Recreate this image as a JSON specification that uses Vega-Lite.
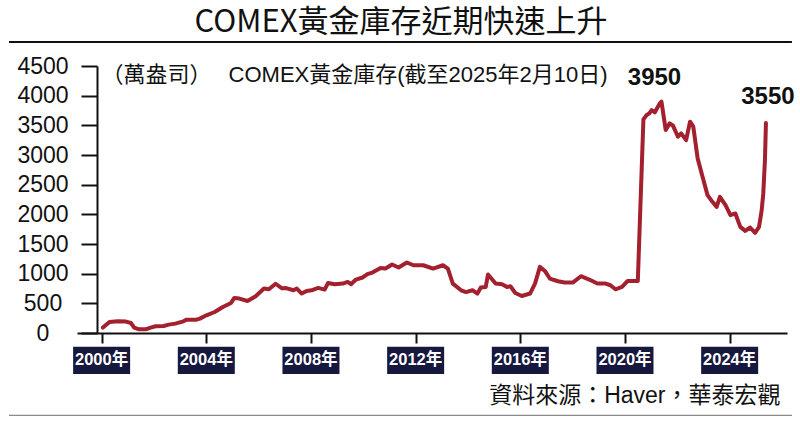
{
  "$schema": "https://vega.github.io/schema/vega-lite/v6.json",
  "width": 710,
  "height": 267,
  "autosize": {"type": "none"},
  "padding": {"left": 77, "top": 66, "right": 13, "bottom": 91},
  "background": "white",
  "title": {
    "text": "COMEX黃金庫存近期快速上升",
    "font": "Noto Sans CJK TC",
    "fontSize": 31,
    "fontWeight": "normal",
    "color": "#111111",
    "anchor": "middle",
    "frame": "group",
    "dx": -31,
    "offset": 2
  },
  "config": {
    "view": {"stroke": null},
    "axisX": {
      "labels": false, "grid": false,
      "tickSize": 10, "tickWidth": 2, "tickColor": "#111111",
      "domainWidth": 2, "domainColor": "#111111",
      "titleX": 703, "titleY": 62, "titleAlign": "right", "titleBaseline": "middle",
      "titleFont": "Liberation Sans, Noto Sans CJK TC", "titleFontSize": 23,
      "titleFontWeight": "normal", "titleColor": "#111111"
    },
    "axisY": {
      "grid": false, "offset": -20,
      "tickSize": 16, "tickWidth": 2, "tickColor": "#111111",
      "domainWidth": 2, "domainColor": "#111111",
      "labelAlign": "center", "labelPadding": 38.5, "labelBaseline": "middle",
      "labelFont": "Liberation Sans", "labelFontSize": 23, "labelColor": "#111111",
      "labelOverlap": false, "labelFlush": false,
      "titleAngle": 0, "titleX": 4, "titleY": 8, "titleAlign": "left", "titleBaseline": "middle",
      "titleFont": "Liberation Sans, Noto Sans CJK TC", "titleFontSize": 22,
      "titleFontWeight": "normal", "titleColor": "#111111"
    }
  },
  "datasets": {
    "stock": [
      {"year": 2000.049, "value": 91}, {"year": 2000.301, "value": 186}, {"year": 2000.614, "value": 197},
      {"year": 2000.930, "value": 192}, {"year": 2001.119, "value": 169}, {"year": 2001.243, "value": 91},
      {"year": 2001.431, "value": 62}, {"year": 2001.684, "value": 62}, {"year": 2001.872, "value": 91},
      {"year": 2002.060, "value": 113}, {"year": 2002.373, "value": 118}, {"year": 2002.561, "value": 141},
      {"year": 2002.814, "value": 158}, {"year": 2003.126, "value": 197}, {"year": 2003.250, "value": 225},
      {"year": 2003.627, "value": 225}, {"year": 2003.755, "value": 242}, {"year": 2004.004, "value": 298},
      {"year": 2004.320, "value": 354}, {"year": 2004.633, "value": 439}, {"year": 2004.945, "value": 506},
      {"year": 2005.073, "value": 591}, {"year": 2005.262, "value": 580}, {"year": 2005.574, "value": 540},
      {"year": 2005.887, "value": 619}, {"year": 2006.203, "value": 749}, {"year": 2006.392, "value": 737},
      {"year": 2006.648, "value": 830}, {"year": 2006.893, "value": 752}, {"year": 2007.017, "value": 760},
      {"year": 2007.333, "value": 720}, {"year": 2007.458, "value": 749}, {"year": 2007.646, "value": 665},
      {"year": 2007.834, "value": 709}, {"year": 2008.023, "value": 720}, {"year": 2008.275, "value": 760},
      {"year": 2008.523, "value": 732}, {"year": 2008.652, "value": 844}, {"year": 2008.900, "value": 822},
      {"year": 2009.217, "value": 833}, {"year": 2009.405, "value": 861}, {"year": 2009.529, "value": 822},
      {"year": 2009.718, "value": 901}, {"year": 2009.970, "value": 935}, {"year": 2010.158, "value": 991},
      {"year": 2010.347, "value": 1019}, {"year": 2010.659, "value": 1097}, {"year": 2010.847, "value": 1086},
      {"year": 2011.100, "value": 1154}, {"year": 2011.348, "value": 1103}, {"year": 2011.665, "value": 1188},
      {"year": 2011.913, "value": 1142}, {"year": 2012.290, "value": 1142}, {"year": 2012.667, "value": 1086},
      {"year": 2013.043, "value": 1142}, {"year": 2013.232, "value": 1086}, {"year": 2013.420, "value": 833},
      {"year": 2013.736, "value": 720}, {"year": 2013.925, "value": 690}, {"year": 2014.173, "value": 720},
      {"year": 2014.361, "value": 665}, {"year": 2014.490, "value": 766}, {"year": 2014.678, "value": 776},
      {"year": 2014.765, "value": 985}, {"year": 2014.927, "value": 901}, {"year": 2015.055, "value": 833},
      {"year": 2015.303, "value": 822}, {"year": 2015.492, "value": 776}, {"year": 2015.620, "value": 788},
      {"year": 2015.808, "value": 675}, {"year": 2016.057, "value": 624}, {"year": 2016.373, "value": 665},
      {"year": 2016.561, "value": 833}, {"year": 2016.749, "value": 1114}, {"year": 2016.938, "value": 1046},
      {"year": 2017.126, "value": 918}, {"year": 2017.439, "value": 872}, {"year": 2017.691, "value": 850},
      {"year": 2018.004, "value": 850}, {"year": 2018.316, "value": 957}, {"year": 2018.633, "value": 901},
      {"year": 2018.945, "value": 833}, {"year": 2019.258, "value": 833}, {"year": 2019.446, "value": 805},
      {"year": 2019.635, "value": 737}, {"year": 2019.887, "value": 776}, {"year": 2020.102, "value": 877},
      {"year": 2020.328, "value": 877}, {"year": 2020.490, "value": 877}, {"year": 2020.704, "value": 3601},
      {"year": 2020.829, "value": 3674}, {"year": 2020.930, "value": 3702}, {"year": 2021.017, "value": 3758},
      {"year": 2021.141, "value": 3719}, {"year": 2021.330, "value": 3870}, {"year": 2021.394, "value": 3900},
      {"year": 2021.556, "value": 3421}, {"year": 2021.707, "value": 3533}, {"year": 2021.834, "value": 3494},
      {"year": 2022.023, "value": 3308}, {"year": 2022.147, "value": 3365}, {"year": 2022.335, "value": 3252},
      {"year": 2022.486, "value": 3561}, {"year": 2022.610, "value": 3477}, {"year": 2022.776, "value": 2943},
      {"year": 2022.964, "value": 2633}, {"year": 2023.153, "value": 2324}, {"year": 2023.341, "value": 2211},
      {"year": 2023.503, "value": 2126}, {"year": 2023.627, "value": 2295}, {"year": 2023.842, "value": 2155},
      {"year": 2024.030, "value": 1986}, {"year": 2024.218, "value": 2015}, {"year": 2024.407, "value": 1789},
      {"year": 2024.595, "value": 1721}, {"year": 2024.783, "value": 1778}, {"year": 2024.972, "value": 1688},
      {"year": 2025.122, "value": 1789}, {"year": 2025.224, "value": 2071}, {"year": 2025.285, "value": 2352},
      {"year": 2025.348, "value": 2914}, {"year": 2025.386, "value": 3540}
    ],
    "years": [
      {"year": 2000, "label": "2000年"}, {"year": 2004, "label": "2004年"}, {"year": 2008, "label": "2008年"},
      {"year": 2012, "label": "2012年"}, {"year": 2016, "label": "2016年"}, {"year": 2020, "label": "2020年"},
      {"year": 2024, "label": "2024年"}
    ],
    "peak": [{"year": 2021.394, "value": 3900, "label": "3950"}],
    "last": [{"year": 2025.386, "value": 3540, "label": "3550"}],
    "one": [{}]
  },
  "layer": [
    {
      "data": {"name": "stock"},
      "mark": {"type": "line", "color": "#a3202f", "strokeWidth": 4, "strokeJoin": "round", "strokeCap": "round"},
      "encoding": {
        "x": {
          "field": "year", "type": "quantitative",
          "scale": {"domain": [1999.25, 2026], "nice": false, "zero": false},
          "axis": {"values": [2000, 2004, 2008, 2012, 2016, 2020, 2024], "labels": false, "title": "資料來源：Haver，華泰宏觀"}
        },
        "y": {
          "field": "value", "type": "quantitative",
          "scale": {"domain": [0, 4500], "nice": false},
          "axis": {"values": [0, 500, 1000, 1500, 2000, 2500, 3000, 3500, 4000, 4500], "format": "d", "title": "（萬盎司）　 COMEX黃金庫存(截至2025年2月10日)"}
        }
      }
    },
    {
      "data": {"name": "one"},
      "mark": {"type": "rule", "color": "#111111", "strokeWidth": 2},
      "encoding": {
        "x": {"datum": 1996.46, "type": "quantitative",
          "axis": {"values": [2000, 2004, 2008, 2012, 2016, 2020, 2024], "labels": false, "title": "資料來源：Haver，華泰宏觀"}},
        "x2": {"datum": 2026.38},
        "y": {"datum": 4906, "type": "quantitative",
          "axis": {"values": [0, 500, 1000, 1500, 2000, 2500, 3000, 3500, 4000, 4500], "format": "d", "title": "（萬盎司）　 COMEX黃金庫存(截至2025年2月10日)"}}
      }
    },
    {
      "data": {"name": "one"},
      "mark": {"type": "rule", "color": "#8a8a8a", "strokeWidth": 1.2},
      "encoding": {
        "x": {"datum": 1996.46, "type": "quantitative",
          "axis": {"values": [2000, 2004, 2008, 2012, 2016, 2020, 2024], "labels": false, "title": "資料來源：Haver，華泰宏觀"}},
        "x2": {"datum": 2026.38},
        "y": {"datum": -1389, "type": "quantitative",
          "axis": {"values": [0, 500, 1000, 1500, 2000, 2500, 3000, 3500, 4000, 4500], "format": "d", "title": "（萬盎司）　 COMEX黃金庫存(截至2025年2月10日)"}}
      }
    },
    {
      "data": {"name": "years"},
      "mark": {"type": "bar", "color": "#16183d", "width": 57},
      "encoding": {
        "x": {"field": "year", "type": "quantitative",
          "axis": {"values": [2000, 2004, 2008, 2012, 2016, 2020, 2024], "labels": false, "title": "資料來源：Haver，華泰宏觀"}},
        "y": {"datum": -231, "type": "quantitative",
          "axis": {"values": [0, 500, 1000, 1500, 2000, 2500, 3000, 3500, 4000, 4500], "format": "d", "title": "（萬盎司）　 COMEX黃金庫存(截至2025年2月10日)"}},
        "y2": {"datum": -692}
      }
    },
    {
      "data": {"name": "years"},
      "mark": {"type": "text", "color": "white", "font": "Liberation Sans, Noto Sans CJK TC", "fontWeight": "bold", "fontSize": 16.5, "align": "center", "baseline": "middle"},
      "encoding": {
        "x": {"field": "year", "type": "quantitative",
          "axis": {"values": [2000, 2004, 2008, 2012, 2016, 2020, 2024], "labels": false, "title": "資料來源：Haver，華泰宏觀"}},
        "y": {"datum": -461, "type": "quantitative",
          "axis": {"values": [0, 500, 1000, 1500, 2000, 2500, 3000, 3500, 4000, 4500], "format": "d", "title": "（萬盎司）　 COMEX黃金庫存(截至2025年2月10日)"}},
        "text": {"field": "label"}
      }
    },
    {
      "data": {"name": "peak"},
      "mark": {"type": "text", "color": "#111111", "font": "Liberation Sans", "fontWeight": "bold", "fontSize": 24, "align": "center", "baseline": "middle", "dx": -7, "dy": -24},
      "encoding": {
        "x": {"field": "year", "type": "quantitative",
          "axis": {"values": [2000, 2004, 2008, 2012, 2016, 2020, 2024], "labels": false, "title": "資料來源：Haver，華泰宏觀"}},
        "y": {"field": "value", "type": "quantitative",
          "axis": {"values": [0, 500, 1000, 1500, 2000, 2500, 3000, 3500, 4000, 4500], "format": "d", "title": "（萬盎司）　 COMEX黃金庫存(截至2025年2月10日)"}},
        "text": {"field": "label"}
      }
    },
    {
      "data": {"name": "last"},
      "mark": {"type": "text", "color": "#111111", "font": "Liberation Sans", "fontWeight": "bold", "fontSize": 24, "align": "center", "baseline": "middle", "dx": 2, "dy": -26},
      "encoding": {
        "x": {"field": "year", "type": "quantitative",
          "axis": {"values": [2000, 2004, 2008, 2012, 2016, 2020, 2024], "labels": false, "title": "資料來源：Haver，華泰宏觀"}},
        "y": {"field": "value", "type": "quantitative",
          "axis": {"values": [0, 500, 1000, 1500, 2000, 2500, 3000, 3500, 4000, 4500], "format": "d", "title": "（萬盎司）　 COMEX黃金庫存(截至2025年2月10日)"}},
        "text": {"field": "label"}
      }
    }
  ]
}
